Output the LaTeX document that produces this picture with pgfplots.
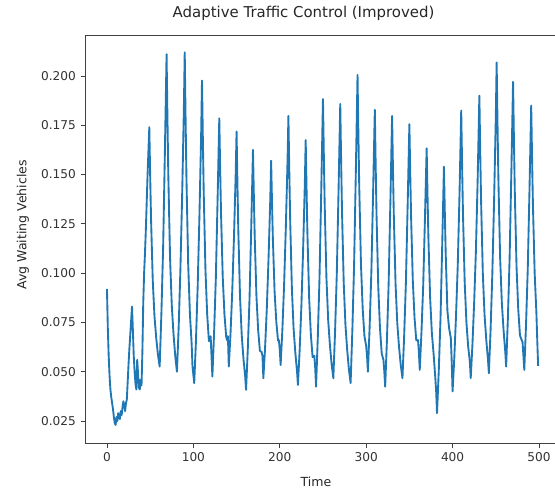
\documentclass[border=0pt]{standalone}
\usepackage{pgfplots}
\pgfplotsset{compat=1.18}
\usepackage{fontspec}
\setmainfont{DejaVu Sans}
\definecolor{mplblue}{HTML}{1F77B4}
\begin{document}
\begin{tikzpicture}
\useasboundingbox (-64.05pt,-37.1pt) rectangle (352.2pt,332.6pt);
\begin{axis}[
  at={(0pt,0pt)}, anchor=south west,
  scale only axis,
  width=355.7pt, height=306.4pt,
  xmin=-24.95, xmax=523.95,
  ymin=0.0136, ymax=0.2208,
  xtick={0,100,...,500},
  ytick={0.025,0.05,0.075,0.1,0.125,0.15,0.175,0.2},
  yticklabel style={/pgf/number format/.cd, fixed, precision=3, zerofill},
  scaled y ticks=false,
  /pgf/number format/assume math mode=true,
  tick pos=left,
  tick align=outside,
  major tick length=3.6pt,
  tick style={black!75, line width=0.6pt},
  axis line style={black!75, line width=0.6pt},
  tick label style={font=\fontsize{9.1}{10}\selectfont, text=black!80},
  title={Adaptive Traffic Control (Improved)},
  title style={at={(0.46,1.034)}, anchor=center, font=\fontsize{11.2}{12}\selectfont, text=black!85},
  xlabel={Time},
  xlabel style={at={(0.486,-0.094)}, anchor=center, font=\fontsize{9.4}{10}\selectfont, text=black!85},
  ylabel={Avg Waiting Vehicles},
  ylabel style={at={(-0.1316,0.535)}, anchor=center, rotate=0, font=\fontsize{9.4}{10}\selectfont, text=black!85},
]
\addplot[mplblue, line width=1.4pt, line join=round] coordinates {
(0,0.092) (1,0.072) (2,0.058) (3,0.048) (4,0.041) (5,0.037) (6,0.034) (7,0.031) (8,0.027) (9,0.024)
(10,0.023) (11,0.027) (12,0.025) (13,0.029) (14,0.027) (15,0.026) (16,0.030) (17,0.028) (18,0.032) (19,0.035)
(20,0.033) (21,0.030) (22,0.034) (23,0.036) (24,0.045) (25,0.054) (26,0.062) (27,0.069) (28,0.076) (29,0.083)
(30,0.071) (31,0.058) (32,0.050) (33,0.044) (34,0.041) (35,0.056) (36,0.049) (37,0.042) (38,0.041) (39,0.046)
(40,0.043) (41,0.060) (42,0.085) (43,0.100) (44,0.110) (45,0.122) (46,0.136) (47,0.150) (48,0.162)
(49,0.174) (50,0.1497) (51,0.1279) (53,0.0963) (55,0.0781) (57,0.0672) (59,0.0587) (61,0.0526)
(63,0.0795) (65,0.1128) (67,0.1603)
(69,0.211) (70,0.1788) (71,0.1498) (73,0.108) (75,0.0838) (77,0.0693) (79,0.0581) (81,0.050)
(83,0.0727) (85,0.1018) (87,0.1391) (89,0.1828)
(90,0.212) (91,0.1784) (92,0.1482) (94,0.1046) (96,0.0794) (98,0.0643) (99,0.0526) (101,0.0442)
(103,0.0657) (105,0.0933) (107,0.1286) (109,0.170)
(110,0.1976) (111,0.1676) (112,0.1406) (114,0.1015) (116,0.079) (118,0.0655) (120,0.068) (121,0.058) (122,0.0475)
(124,0.0698) (126,0.0973) (128,0.1366)
(130,0.1785) (131,0.1533) (132,0.1307) (134,0.0979) (136,0.079) (138,0.0677) (139,0.066) (140,0.068) (141,0.0526)
(143,0.0693) (145,0.0907) (147,0.1182) (149,0.1503)
(150,0.1718) (151,0.1456) (152,0.122) (154,0.088) (156,0.0683) (158,0.0565) (160,0.0474) (161,0.0408)
(163,0.0615) (165,0.087) (167,0.1236)
(169,0.1625) (170,0.1393) (171,0.1185) (173,0.0884) (175,0.071) (177,0.0606) (179,0.060) (180,0.058) (181,0.0467)
(183,0.0621) (185,0.082) (187,0.1074) (189,0.1371)
(190,0.157) (191,0.1363) (192,0.1176) (194,0.0907) (196,0.0752) (198,0.0658) (199,0.066) (200,0.061) (201,0.0534)
(203,0.0711) (205,0.0938) (207,0.1229) (209,0.157)
(210,0.1797) (211,0.1524) (212,0.1279) (214,0.0924) (216,0.0719) (218,0.0597) (220,0.0501) (221,0.0433)
(223,0.0607) (225,0.083) (227,0.1116) (229,0.1451)
(230,0.1675) (231,0.1425) (232,0.120) (234,0.0874) (236,0.0687) (238,0.0574) (240,0.058) (241,0.052) (242,0.0424)
(244,0.0672) (246,0.0978) (248,0.1416)
(250,0.1883) (251,0.160) (252,0.1345) (254,0.0977) (256,0.0764) (258,0.0637) (260,0.0538) (262,0.0467)
(264,0.0703) (266,0.0996) (268,0.1413)
(270,0.1858) (271,0.1575) (272,0.132) (274,0.0952) (276,0.0739) (278,0.0612) (280,0.0513) (282,0.0442)
(284,0.0708) (286,0.1036) (288,0.1505)
(290,0.2005) (291,0.1704) (292,0.1433) (294,0.1042) (296,0.0816) (298,0.0681) (300,0.063) (301,0.058) (302,0.050)
(304,0.0726) (306,0.1005) (308,0.1403)
(310,0.1828) (311,0.1547) (312,0.1294) (314,0.0929) (316,0.0719) (318,0.0592) (320,0.056) (321,0.050) (322,0.0424)
(324,0.0657) (326,0.0946) (328,0.1358)
(330,0.1797) (331,0.1531) (332,0.1292) (334,0.0946) (336,0.0746) (338,0.0627) (340,0.0534) (342,0.0467)
(344,0.0686) (346,0.0956) (348,0.1343)
(350,0.1755) (351,0.1506) (352,0.1282) (354,0.0958) (356,0.0771) (358,0.0659) (360,0.066) (361,0.060) (362,0.0509)
(364,0.070) (366,0.0936) (368,0.1273)
(370,0.1633) (371,0.1396) (372,0.1183) (374,0.0876) (376,0.0698) (378,0.0592) (380,0.047) (381,0.040) (382,0.029)
(384,0.0503) (386,0.0765) (388,0.114)
(390,0.154) (391,0.1312) (392,0.1107) (394,0.081) (396,0.072) (398,0.067) (399,0.055) (400,0.040)
(402,0.0571) (404,0.0785) (406,0.1041) (408,0.1397)
(410,0.1824) (411,0.1553) (412,0.1308) (414,0.0956) (416,0.0752) (418,0.063) (420,0.055) (421,0.0467)
(423,0.0639) (425,0.0854) (427,0.1112) (429,0.147)
(431,0.190) (432,0.1618) (433,0.1365) (435,0.0999) (437,0.0788) (439,0.0661) (441,0.056) (442,0.0492)
(444,0.0713) (446,0.0996) (448,0.1359) (450,0.1784)
(451,0.2068) (452,0.176) (453,0.1482) (455,0.1081) (457,0.085) (459,0.0711) (461,0.060) (462,0.0526)
(464,0.0771) (466,0.1075) (468,0.1508)
(470,0.197) (471,0.1679) (472,0.1415) (474,0.1035) (476,0.0816) (478,0.0684) (480,0.066) (481,0.065) (483,0.0509)
(485,0.0737) (487,0.1019) (489,0.1421)
(491,0.185) (492,0.1584) (493,0.1345) (495,0.0999) (497,0.0799) (498,0.066) (499,0.053)
};
\end{axis}
\end{tikzpicture}
\end{document}
